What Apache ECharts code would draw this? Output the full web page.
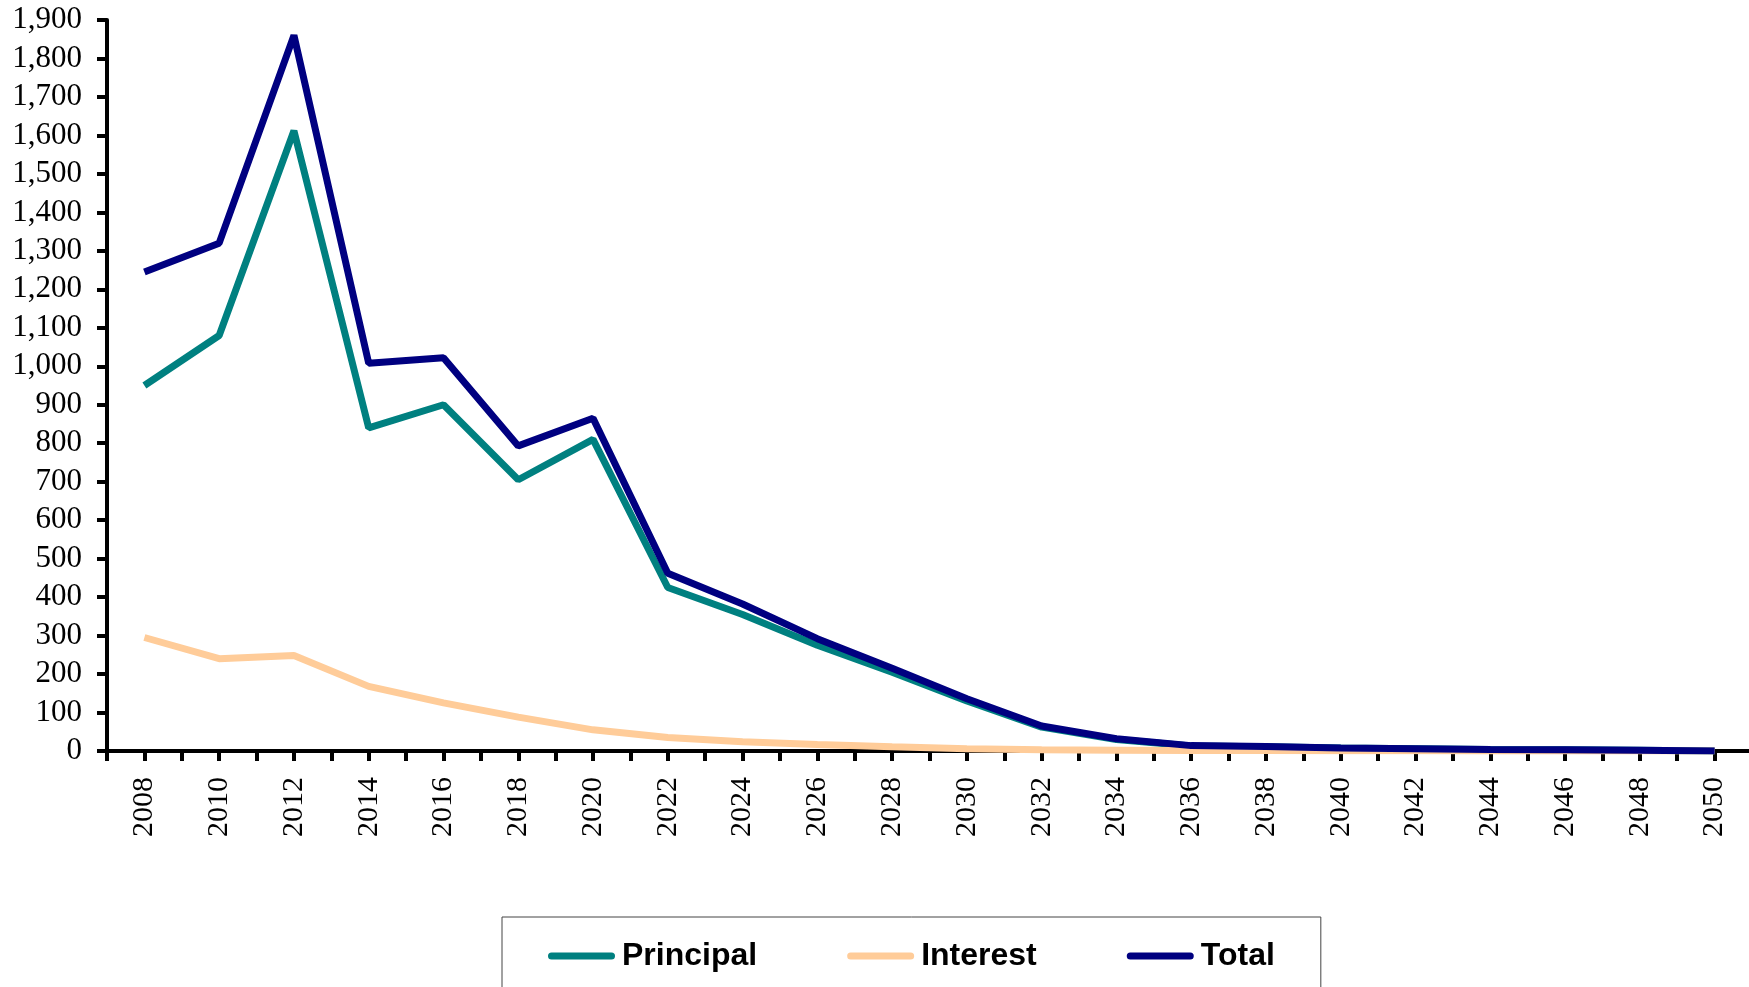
<!DOCTYPE html>
<html>
<head>
<meta charset="utf-8">
<title>Principal and Interest Payments</title>
<script src="https://cdn.jsdelivr.net/npm/echarts@6/dist/echarts.min.js"></script>
<style>
  html, body { margin: 0; padding: 0; background: #ffffff; }
  #chart { width: 1749px; height: 987px; }
</style>
</head>
<body>
<div id="chart"></div>
<script>
// Payment schedule, one value every two years
const years = [2008, 2010, 2012, 2014, 2016, 2018, 2020, 2022, 2024, 2026, 2028,
               2030, 2032, 2034, 2036, 2038, 2040, 2042, 2044, 2046, 2048, 2050];
const principal = [950, 1080, 1612, 840, 900, 705, 810, 425, 355, 275, 205,
                   130, 62, 30, 13, 11, 8, 6, 4, 3, 2, 0];
const interest = [295, 240, 248, 168, 125, 88, 55, 35, 24, 17, 11,
                  6, 3, 2, 1, 1, 0.5, 0.4, 0.3, 0.2, 0.1, 0];
const total = [1245, 1320, 1860, 1008, 1022, 793, 865, 462, 382, 292, 215,
               136, 65, 32, 14, 12, 8, 6, 4, 3, 2, 0];

const yMin = 0, yMax = 1900, yStep = 100;
const xMin = 2007, xMax = 2051, xStep = 1;

const pairs = (vals) => years.map((y, i) => [y, vals[i]]);

const serif = '"Liberation Serif", "Times New Roman", serif';
const sans = '"Liberation Sans", Arial, sans-serif';

// Capsule shaped legend marker
const capsule = 'path://M3.5,0 L63.5,0 A3.5,3.5 0 0 1 63.5,7 L3.5,7 A3.5,3.5 0 0 1 3.5,0 Z';

const chart = echarts.init(document.getElementById('chart'), null, { renderer: 'canvas' });

chart.setOption({
  animation: false,
  backgroundColor: '#ffffff',
  grid: {
    left: 107, right: -3, top: 20, bottom: 236,
    containLabel: false,
    outerBoundsMode: 'none'
  },
  legend: {
    left: 502,
    top: 917,
    orient: 'horizontal',
    padding: [23, 46, 60, 46],
    itemGap: 90,
    itemWidth: 67,
    itemHeight: 7,
    borderColor: '#444444',
    borderWidth: 1,
    icon: capsule,
    textStyle: {
      fontFamily: sans,
      fontSize: 32,
      fontWeight: 'bold',
      color: '#000000',
      padding: [0, 0, 0, 2]
    },
    data: ['Principal', 'Interest', 'Total']
  },
  xAxis: {
    type: 'value',
    min: xMin,
    max: xMax,
    interval: xStep,
    splitLine: { show: false },
    axisLine: { show: true, onZero: false, lineStyle: { color: '#000000', width: 4 } },
    axisTick: { show: true, inside: false, length: 10, lineStyle: { color: '#000000', width: 4 } },
    axisLabel: {
      rotate: 90,
      margin: 26,
      fontFamily: serif,
      fontSize: 30,
      color: '#000000',
      showMinLabel: true,
      showMaxLabel: true,
      formatter: (v) => (v % 2 === 0 ? String(v) : '')
    }
  },
  yAxis: {
    type: 'value',
    min: yMin,
    max: yMax,
    interval: yStep,
    splitLine: { show: false },
    axisLine: { show: true, lineStyle: { color: '#000000', width: 4 } },
    axisTick: { show: true, inside: false, length: 10, lineStyle: { color: '#000000', width: 4 } },
    axisLabel: {
      margin: 25,
      fontFamily: serif,
      fontSize: 31,
      color: '#000000',
      formatter: (v) => v.toLocaleString('en-US')
    }
  },
  series: [
    {
      name: 'Principal',
      type: 'line',
      data: pairs(principal),
      showSymbol: false,
      symbol: 'none',
      color: '#008080',
      lineStyle: { color: '#008080', width: 7 }
    },
    {
      name: 'Interest',
      type: 'line',
      data: pairs(interest),
      showSymbol: false,
      symbol: 'none',
      color: '#FFCC99',
      lineStyle: { color: '#FFCC99', width: 7 }
    },
    {
      name: 'Total',
      type: 'line',
      data: pairs(total),
      showSymbol: false,
      symbol: 'none',
      color: '#000080',
      lineStyle: { color: '#000080', width: 7 }
    }
  ]
});
</script>
</body>
</html>
